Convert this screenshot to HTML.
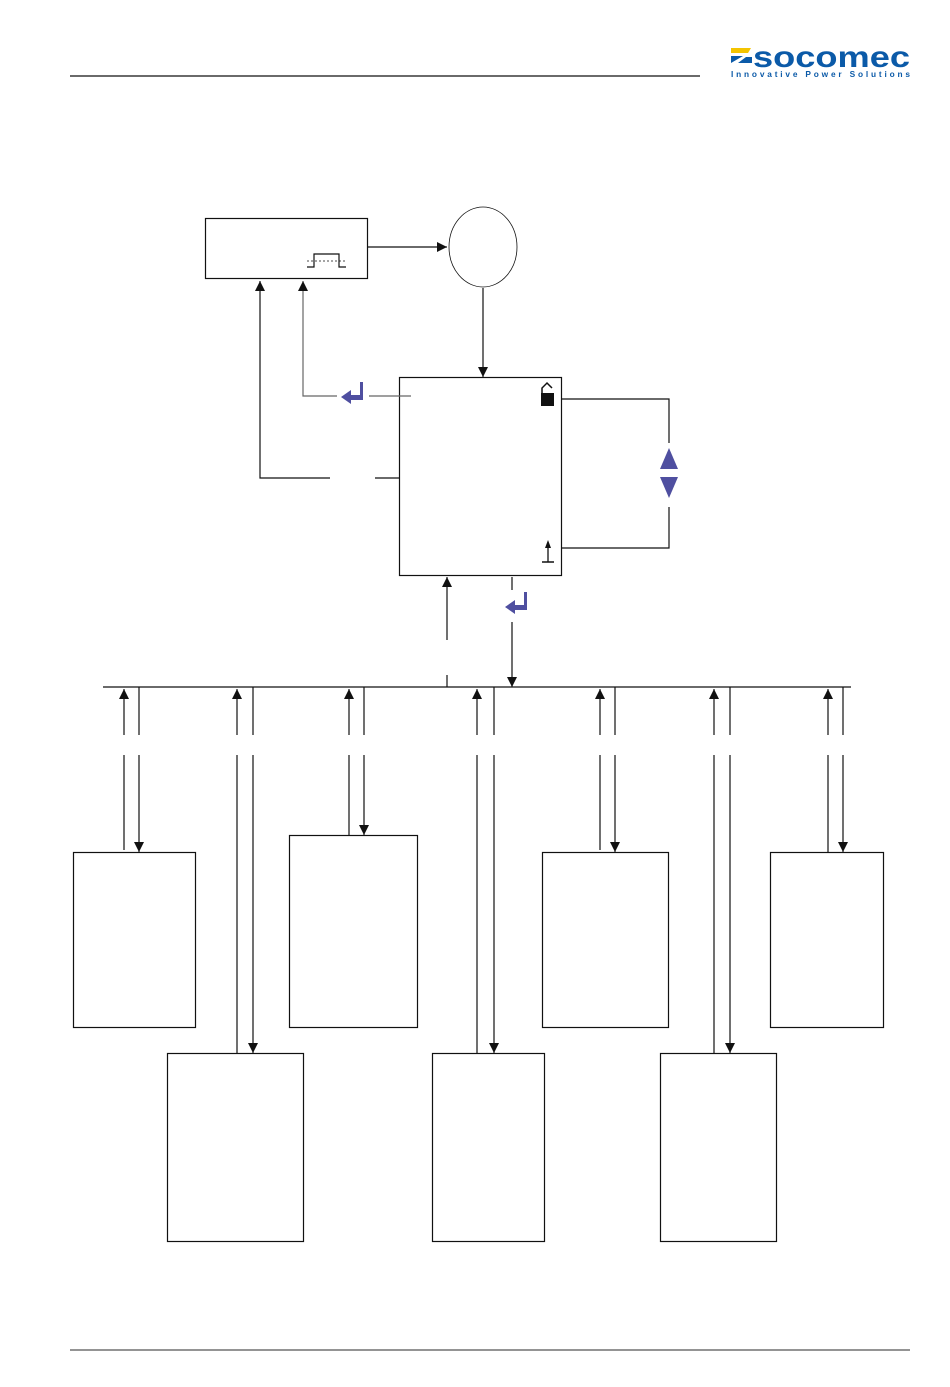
<!DOCTYPE html>
<html><head><meta charset="utf-8"><style>
body{margin:0;background:#fff;}
svg{display:block}
</style></head><body>
<svg width="950" height="1387" viewBox="0 0 950 1387" xmlns="http://www.w3.org/2000/svg">
<defs>
<marker id="a" markerWidth="10" markerHeight="10" refX="10" refY="5" orient="auto" markerUnits="userSpaceOnUse"><path d="M0,0 L10,5 L0,10 z" fill="#111"/></marker>
</defs>
<g stroke="#111" stroke-width="1.2" fill="none">
<line x1="70" y1="76" x2="700" y2="76"/>
<line x1="70" y1="1350" x2="910" y2="1350" stroke="#555"/>
<rect x="205.5" y="218.5" width="162" height="60"/>
<ellipse cx="483" cy="247" rx="34" ry="40" stroke-width="0.8"/>
<line x1="367" y1="247" x2="447" y2="247" marker-end="url(#a)"/>
<line x1="483" y1="288" x2="483" y2="377" marker-end="url(#a)"/>
<rect x="399.5" y="377.5" width="162" height="198"/>
<path d="M307,267 h7 v-13 h25 v13 h7"/>
<line x1="307" y1="261" x2="346" y2="261" stroke-dasharray="2,2" stroke-width="0.8"/>
<polyline points="330,478 260,478 260,281" marker-end="url(#a)"/>
<line x1="375" y1="478" x2="399" y2="478"/>
<polyline points="337,396 303,396 303,281" marker-end="url(#a)" stroke="#666"/>
<line x1="369" y1="396" x2="411" y2="396" stroke="#666"/>
<polyline points="561,399 669,399 669,443"/>
<polyline points="669,507 669,548 561,548"/>
<line x1="447" y1="640" x2="447" y2="577" marker-end="url(#a)"/>
<line x1="447" y1="675" x2="447" y2="687"/>
<line x1="512" y1="577" x2="512" y2="590"/>
<line x1="512" y1="622" x2="512" y2="687" marker-end="url(#a)"/>
<line x1="103" y1="687" x2="851" y2="687"/>
<g>
<line x1="124" y1="735" x2="124" y2="689" marker-end="url(#a)"/><line x1="124" y1="755" x2="124" y2="850"/>
<line x1="139" y1="687" x2="139" y2="735"/><line x1="139" y1="755" x2="139" y2="852" marker-end="url(#a)"/>
<line x1="237" y1="735" x2="237" y2="689" marker-end="url(#a)"/><line x1="237" y1="755" x2="237" y2="1053"/>
<line x1="253" y1="687" x2="253" y2="735"/><line x1="253" y1="755" x2="253" y2="1053" marker-end="url(#a)"/>
<line x1="349" y1="735" x2="349" y2="689" marker-end="url(#a)"/><line x1="349" y1="755" x2="349" y2="835"/>
<line x1="364" y1="687" x2="364" y2="735"/><line x1="364" y1="755" x2="364" y2="835" marker-end="url(#a)"/>
<line x1="477" y1="735" x2="477" y2="689" marker-end="url(#a)"/><line x1="477" y1="755" x2="477" y2="1053"/>
<line x1="494" y1="687" x2="494" y2="735"/><line x1="494" y1="755" x2="494" y2="1053" marker-end="url(#a)"/>
<line x1="600" y1="735" x2="600" y2="689" marker-end="url(#a)"/><line x1="600" y1="755" x2="600" y2="850"/>
<line x1="615" y1="687" x2="615" y2="735"/><line x1="615" y1="755" x2="615" y2="852" marker-end="url(#a)"/>
<line x1="714" y1="735" x2="714" y2="689" marker-end="url(#a)"/><line x1="714" y1="755" x2="714" y2="1053"/>
<line x1="730" y1="687" x2="730" y2="735"/><line x1="730" y1="755" x2="730" y2="1053" marker-end="url(#a)"/>
<line x1="828" y1="735" x2="828" y2="689" marker-end="url(#a)"/><line x1="828" y1="755" x2="828" y2="852"/>
<line x1="843" y1="687" x2="843" y2="735"/><line x1="843" y1="755" x2="843" y2="852" marker-end="url(#a)"/>
</g>
<rect x="73.5" y="852.5" width="122" height="175"/>
<rect x="167.5" y="1053.5" width="136" height="188"/>
<rect x="289.5" y="835.5" width="128" height="192"/>
<rect x="432.5" y="1053.5" width="112" height="188"/>
<rect x="542.5" y="852.5" width="126" height="175"/>
<rect x="660.5" y="1053.5" width="116" height="188"/>
<rect x="770.5" y="852.5" width="113" height="175"/>
<path d="M542,393 v-5 l5,-5 l5,5" stroke-width="1.5"/>
<line x1="548" y1="548" x2="548" y2="562" stroke-width="1.3"/>
<line x1="542" y1="562" x2="554" y2="562" stroke-width="1.5"/>
</g>
<rect x="541" y="393" width="13" height="13" fill="#111"/>
<path d="M548,540 l-3,8 h6 z" fill="#111"/>
<g fill="#4f4fa0">
<path d="M341,397 l10,-7 v5 h9 v-13 h3 v18 h-12 v4 z"/>
<path d="M505,607 l10,-7 v5 h9 v-13 h3 v18 h-12 v4 z"/>
<path d="M669,448 l9,21 h-18 z"/>
<path d="M660,477 h18 l-9,21 z"/>
</g>
<path d="M731,48 h20 l-3,5 h-17 z" fill="#f4c400"/>
<path d="M731,56 l12,0 l-12,7 z M738,63 l8,-6 l6,0 v6 z" fill="#0b5aa8"/>
<text x="753" y="67" font-family="Liberation Sans, sans-serif" font-weight="bold" font-size="30" fill="#0b5aa8" textLength="157" lengthAdjust="spacingAndGlyphs">socomec</text>
<text x="731" y="77" font-family="Liberation Sans, sans-serif" font-weight="bold" font-size="8.3" fill="#0b5aa8" textLength="179" lengthAdjust="spacing">Innovative Power Solutions</text>
</svg>
</body></html>
